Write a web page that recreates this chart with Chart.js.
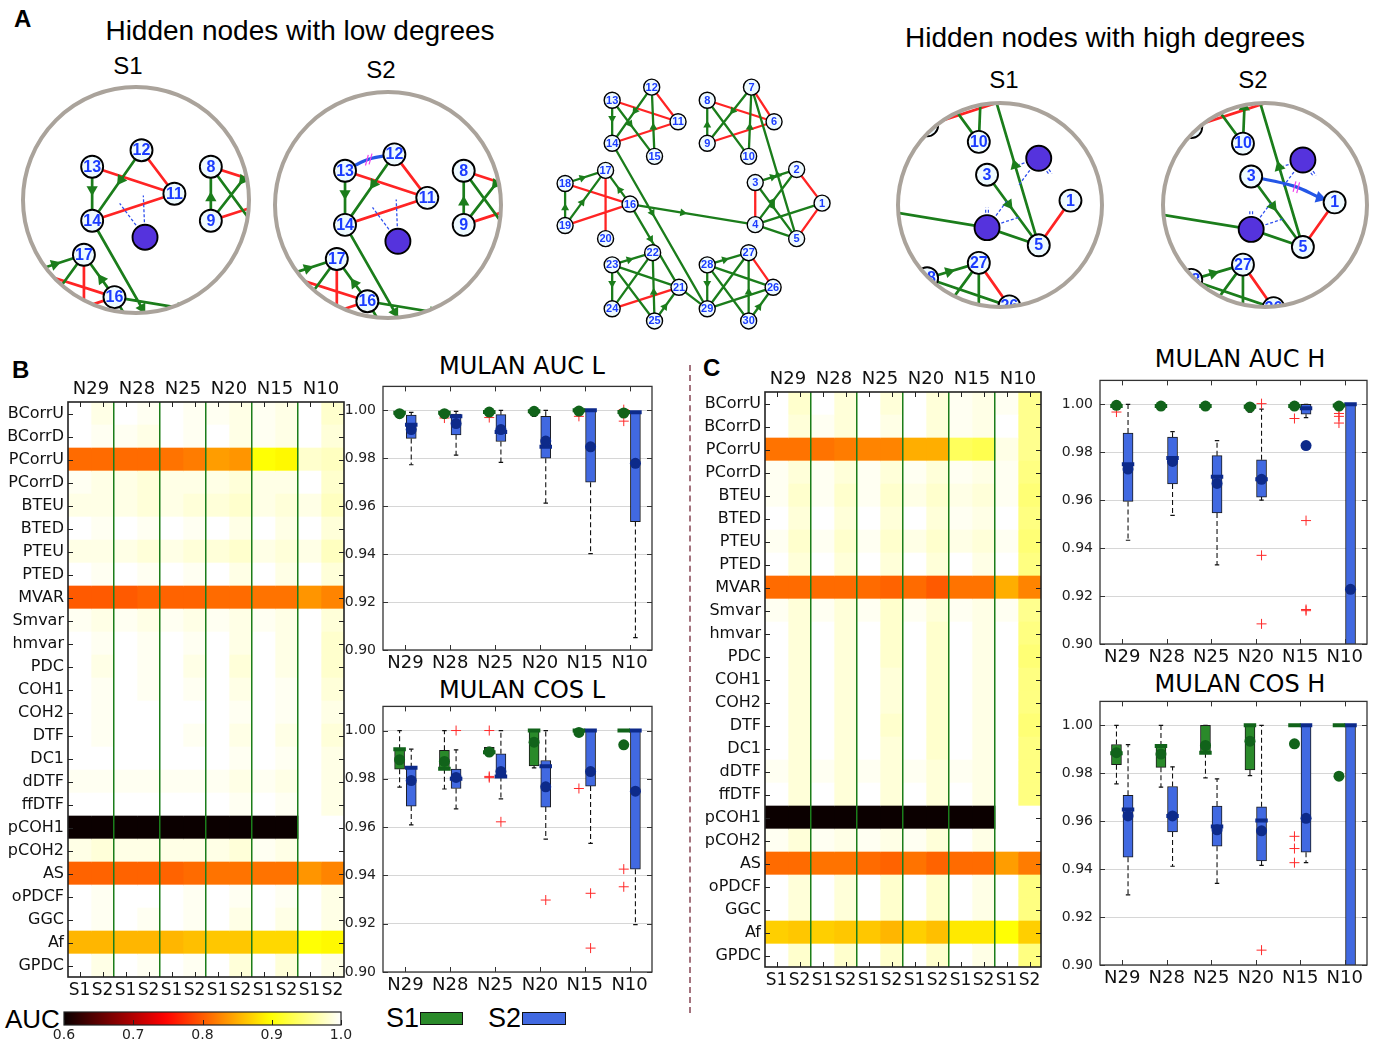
<!DOCTYPE html>
<html>
<head>
<meta charset="utf-8">
<title>Hidden nodes - MULAN</title>
<script src="https://cdn.jsdelivr.net/npm/chart.js@4.4.1/dist/chart.umd.min.js"></script>
<style>
  html, body { margin: 0; padding: 0; background: #fff; }
  body { position: relative; width: 1381px; height: 1046px; overflow: hidden; font-family: "DejaVu Sans", sans-serif; }
  canvas { position: absolute; }
  .t { position: absolute; white-space: nowrap; line-height: 1; color: #000; }
  .sans { font-family: "Liberation Sans", Arial, sans-serif; }
  .ctr { transform: translateX(-50%); }
  .sep { position: absolute; left: 689px; top: 365px; height: 648px; border-left: 2px dashed #a3727d; }
  .sw { position: absolute; height: 11px; border: 1px solid #111; }
</style>
</head>
<body>
<div class="t sans" style="left:14px;top:7px;font-size:24px;font-weight:bold">A</div>
<div class="t sans ctr" style="left:300px;top:17px;font-size:28px">Hidden nodes with low degrees</div>
<div class="t sans ctr" style="left:128px;top:54px;font-size:24px">S1</div>
<div class="t sans ctr" style="left:381px;top:58px;font-size:24px">S2</div>
<div class="t sans ctr" style="left:1105px;top:24px;font-size:28px">Hidden nodes with high degrees</div>
<div class="t sans ctr" style="left:1004px;top:68px;font-size:24px">S1</div>
<div class="t sans ctr" style="left:1253px;top:68px;font-size:24px">S2</div>

<div class="t sans" style="left:12px;top:358px;font-size:24px;font-weight:bold">B</div>
<div class="t sans" style="left:703px;top:356px;font-size:24px;font-weight:bold">C</div>
<div class="t ctr" style="left:522px;top:354px;font-size:24px">MULAN AUC L</div>
<div class="t ctr" style="left:522px;top:678px;font-size:24px">MULAN COS L</div>
<div class="t ctr" style="left:1240px;top:347px;font-size:24px">MULAN AUC H</div>
<div class="t ctr" style="left:1240px;top:672px;font-size:24px">MULAN COS H</div>
<div class="t sans" style="left:5px;top:1006px;font-size:26px">AUC</div>
<div class="t sans" style="left:386px;top:1005px;font-size:27px">S1</div>
<div class="sw" style="left:420px;top:1012px;width:41px;background:#2a8a2a"></div>
<div class="t sans" style="left:488px;top:1005px;font-size:27px">S2</div>
<div class="sw" style="left:522px;top:1012px;width:42px;background:#4169e1"></div>
<div class="sep"></div>

<script>
// ---------- data ----------
const groups = ['N29', 'N28', 'N25', 'N20', 'N15', 'N10'];
const subCols = ['S1', 'S2', 'S1', 'S2', 'S1', 'S2', 'S1', 'S2', 'S1', 'S2', 'S1', 'S2'];
const rowLabels = ['BCorrU', 'BCorrD', 'PCorrU', 'PCorrD', 'BTEU', 'BTED', 'PTEU', 'PTED', 'MVAR', 'Smvar',
  'hmvar', 'PDC', 'COH1', 'COH2', 'DTF', 'DC1', 'dDTF', 'ffDTF', 'pCOH1', 'pCOH2', 'AS', 'oPDCF', 'GGC', 'Af', 'GPDC'];
const yTicks = [0.90, 0.92, 0.94, 0.96, 0.98, 1.00];
const cbTicks = [0.6, 0.7, 0.8, 0.9, 1.0];

// AUC per method (rows) and N/S column (12 cols), panel B (low degrees)
const heatB = [
  [1.0, 0.99, 1.0, 0.995, 1.0, 0.995, 0.995, 0.99, 0.995, 0.99, 1.0, 0.98],
  [1.0, 0.995, 0.995, 0.99, 1.0, 0.995, 1.0, 0.99, 0.995, 0.99, 1.0, 0.985],
  [0.81, 0.81, 0.81, 0.81, 0.815, 0.82, 0.84, 0.835, 0.9, 0.895, 0.98, 0.975],
  [0.995, 0.99, 0.99, 0.985, 0.99, 0.99, 0.99, 0.985, 0.99, 0.99, 1.0, 0.98],
  [0.99, 0.99, 0.99, 0.985, 0.99, 0.985, 0.985, 0.98, 0.99, 0.985, 0.99, 0.975],
  [1.0, 0.995, 1.0, 0.995, 1.0, 0.995, 1.0, 0.99, 1.0, 0.99, 1.0, 0.985],
  [0.99, 0.99, 0.99, 0.985, 0.99, 0.985, 0.985, 0.98, 0.99, 0.985, 0.99, 0.975],
  [1.0, 0.995, 1.0, 0.995, 1.0, 0.995, 1.0, 0.99, 1.0, 0.99, 1.0, 0.985],
  [0.8, 0.8, 0.8, 0.805, 0.805, 0.805, 0.81, 0.81, 0.815, 0.815, 0.835, 0.825],
  [0.995, 0.99, 0.995, 0.99, 0.995, 0.99, 0.995, 0.99, 0.995, 0.99, 1.0, 0.985],
  [1.0, 0.995, 1.0, 0.995, 1.0, 0.995, 1.0, 0.99, 1.0, 0.99, 1.0, 0.98],
  [1.0, 0.99, 1.0, 0.995, 1.0, 0.99, 1.0, 0.985, 1.0, 0.99, 1.0, 0.98],
  [1.0, 0.995, 1.0, 0.995, 1.0, 0.995, 1.0, 0.99, 1.0, 0.995, 1.0, 0.985],
  [1.0, 0.995, 1.0, 1.0, 1.0, 1.0, 1.0, 0.995, 1.0, 0.995, 1.0, 0.99],
  [1.0, 0.995, 1.0, 1.0, 1.0, 0.995, 1.0, 0.99, 1.0, 0.99, 1.0, 0.985],
  [1.0, 1.0, 1.0, 1.0, 1.0, 1.0, 1.0, 0.995, 1.0, 0.995, 1.0, 0.99],
  [0.995, 0.995, 0.995, 0.995, 0.995, 0.995, 0.995, 0.99, 0.995, 0.99, 1.0, 0.99],
  [1.0, 1.0, 1.0, 1.0, 1.0, 1.0, 1.0, 0.995, 1.0, 0.995, 1.0, 0.99],
  [0.5, 0.5, 0.5, 0.5, 0.5, 0.5, 0.5, 0.5, 0.5, 0.5, null, null],
  [0.99, 0.985, 0.99, 0.99, 0.99, 0.99, 0.99, 0.985, 0.995, 0.99, 1.0, 1.0],
  [0.805, 0.805, 0.805, 0.805, 0.805, 0.81, 0.815, 0.815, 0.815, 0.815, 0.835, 0.825],
  [1.0, 0.995, 1.0, 1.0, 1.0, 0.995, 1.0, 0.995, 1.0, 0.995, 1.0, 0.99],
  [1.0, 0.995, 1.0, 0.995, 1.0, 0.995, 1.0, 0.99, 1.0, 0.99, 1.0, 0.99],
  [0.855, 0.855, 0.855, 0.855, 0.855, 0.86, 0.865, 0.865, 0.875, 0.875, 0.9, 0.895],
  [1.0, 0.99, 1.0, 0.995, 1.0, 0.995, 1.0, 0.985, 1.0, 0.985, 1.0, 0.99]
];

// panel C (high degrees)
const heatC = [
  [1.0, 0.98, 1.0, 0.985, 1.0, 0.985, 1.0, 0.985, 0.995, 0.99, 0.995, 0.955],
  [1.0, 0.985, 0.995, 0.985, 1.0, 0.99, 1.0, 0.985, 0.995, 0.99, 1.0, 0.955],
  [0.815, 0.815, 0.815, 0.82, 0.825, 0.825, 0.85, 0.85, 0.935, 0.93, 0.99, 0.955],
  [0.995, 0.985, 0.995, 0.985, 0.995, 0.985, 0.995, 0.985, 0.995, 0.99, 0.995, 0.95],
  [0.995, 0.98, 0.995, 0.98, 0.995, 0.98, 0.99, 0.98, 0.99, 0.985, 0.995, 0.945],
  [1.0, 0.985, 1.0, 0.985, 1.0, 0.985, 1.0, 0.985, 0.995, 0.99, 1.0, 0.95],
  [0.995, 0.98, 0.995, 0.98, 0.995, 0.98, 0.99, 0.98, 0.99, 0.985, 0.995, 0.945],
  [1.0, 0.985, 1.0, 0.985, 1.0, 0.985, 1.0, 0.985, 1.0, 0.99, 1.0, 0.95],
  [0.81, 0.81, 0.81, 0.81, 0.81, 0.805, 0.81, 0.8, 0.815, 0.815, 0.85, 0.825],
  [0.995, 0.985, 0.995, 0.985, 0.995, 0.98, 0.995, 0.985, 0.995, 0.99, 0.995, 0.955],
  [1.0, 0.985, 1.0, 0.985, 1.0, 0.98, 1.0, 0.98, 1.0, 0.99, 1.0, 0.95],
  [1.0, 0.985, 1.0, 0.985, 1.0, 0.98, 1.0, 0.98, 1.0, 0.99, 1.0, 0.945],
  [1.0, 0.985, 1.0, 0.985, 1.0, 0.985, 1.0, 0.98, 1.0, 0.99, 1.0, 0.95],
  [1.0, 0.985, 1.0, 0.985, 1.0, 0.985, 1.0, 0.98, 1.0, 0.99, 1.0, 0.95],
  [1.0, 0.985, 1.0, 0.985, 1.0, 0.98, 1.0, 0.98, 1.0, 0.99, 1.0, 0.945],
  [1.0, 0.985, 1.0, 0.985, 1.0, 0.985, 1.0, 0.98, 1.0, 0.99, 1.0, 0.95],
  [0.995, 0.985, 0.995, 0.985, 0.995, 0.985, 0.995, 0.985, 0.995, 0.99, 1.0, 0.95],
  [1.0, 0.985, 1.0, 0.985, 1.0, 0.985, 1.0, 0.985, 1.0, 0.99, 1.0, 0.95],
  [0.5, 0.5, 0.5, 0.5, 0.5, 0.5, 0.5, 0.5, 0.5, 0.5, null, null],
  [0.995, 0.985, 0.995, 0.99, 0.995, 0.99, 0.995, 0.985, 1.0, 0.99, 1.0, 1.0],
  [0.81, 0.81, 0.815, 0.815, 0.81, 0.805, 0.815, 0.805, 0.81, 0.81, 0.84, 0.82],
  [1.0, 0.985, 1.0, 0.985, 1.0, 0.98, 1.0, 0.98, 1.0, 0.99, 1.0, 0.95],
  [1.0, 0.985, 1.0, 0.985, 1.0, 0.98, 1.0, 0.98, 1.0, 0.99, 1.0, 0.95],
  [0.87, 0.865, 0.87, 0.865, 0.865, 0.855, 0.87, 0.86, 0.885, 0.885, 0.9, 0.87],
  [1.0, 0.98, 1.0, 0.98, 1.0, 0.98, 1.0, 0.98, 1.0, 0.99, 1.0, 0.95]
];

// box plots: [whiskerLow, q1, median, q3, whiskerHigh] per N, means, outliers as [groupIndex, value]
const aucL_S1_box = [[0.9975, 0.998, 0.999, 0.9995, 1.0], [0.9975, 0.998, 0.999, 0.9995, 1.0], [0.998, 0.9985, 0.9993, 0.9998, 1.0],
  [0.9975, 0.9985, 0.9996, 1.0, 1.0], [0.999, 0.9995, 1.0, 1.0, 1.0], [0.998, 0.9985, 0.9993, 1.0, 1.0]];
const aucL_S1_mean = [0.9986, 0.9986, 0.9993, 0.9996, 0.9997, 0.9989];
const aucL_S1_out = [[1, 0.9968], [2, 0.997], [4, 0.9975], [5, 1.0003], [5, 0.9955]];
const aucL_S2_box = [[0.9773, 0.9883, 0.994, 0.998, 0.9992], [0.9813, 0.9898, 0.9975, 0.9985, 0.9996], [0.9783, 0.987, 0.991, 0.9982, 1.0],
  [0.9613, 0.98, 0.9848, 0.9975, 1.0], [0.9402, 0.97, 1.0, 1.0, 1.0], [0.9052, 0.9536, 0.9992, 0.9992, 0.9992]];
const aucL_S2_mean = [0.992, 0.9945, 0.992, 0.9872, 0.9848, 0.9779];
const aucL_S2_out = [];

const cosL_S1_box = [[0.9766, 0.984, 0.9923, 0.9923, 1.0], [0.9758, 0.9842, 0.9842, 0.9918, 1.0], [0.991, 0.991, 0.991, 0.993, 0.993],
  [0.9845, 0.9854, 1.0, 1.0, 1.0], [1.0, 1.0, 1.0, 1.0, 1.0], [1.0, 1.0, 1.0, 1.0, 1.0]];
const cosL_S1_mean = [0.9879, 0.9872, 0.9911, 0.9952, 0.9992, 0.9941];
const cosL_S1_out = [[2, 1.0], [2, 0.981], [2, 0.9805], [4, 0.976], [5, 0.9426], [5, 0.9353]];
const cosL_S2_box = [[0.9609, 0.9687, 0.9846, 0.9846, 0.9923], [0.9676, 0.976, 0.98, 0.984, 0.992], [0.9717, 0.981, 0.981, 0.9904, 1.0],
  [0.955, 0.9683, 0.9852, 0.9876, 1.0], [0.9533, 0.977, 1.0, 1.0, 1.0], [0.9196, 0.9426, 1.0, 1.0, 1.0]];
const cosL_S2_mean = [0.9793, 0.9806, 0.983, 0.9767, 0.983, 0.9749];
const cosL_S2_out = [[1, 1.0], [2, 0.9622], [3, 0.9298], [4, 0.9326], [4, 0.9099]];

const aucH_S1_box = [[0.998, 0.9985, 0.9993, 0.9998, 1.0], [0.9985, 0.999, 0.9993, 0.9997, 1.0], [0.9985, 0.999, 0.9993, 0.9997, 1.0],
  [0.9968, 0.9985, 0.999, 1.0, 1.0], [0.9975, 0.9985, 0.9993, 1.0, 1.0], [0.998, 0.999, 0.9995, 1.0, 1.0]];
const aucH_S1_mean = [0.9996, 0.9993, 0.9993, 0.9989, 0.9993, 0.9993];
const aucH_S1_out = [[0, 0.9968], [4, 0.9941], [5, 0.9962], [5, 0.995], [5, 0.9922]];
const aucH_S2_box = [[0.9433, 0.9595, 0.975, 0.988, 1.0], [0.9537, 0.9668, 0.9776, 0.9863, 0.9886], [0.933, 0.9547, 0.9698, 0.9786, 0.9849],
  [0.96, 0.9613, 0.9687, 0.9769, 0.998], [0.9945, 0.9959, 0.9984, 1.0, 1.0], [0.85, 0.86, 1.0, 1.0, 1.0]];
const aucH_S2_mean = [0.973, 0.9762, 0.967, 0.9687, 0.9828, 0.9228];
const aucH_S2_out = [[3, 1.0003], [3, 0.937], [3, 0.9084], [4, 0.9515], [4, 0.9144], [4, 0.9139]];

const cosH_S1_box = [[0.9756, 0.9836, 0.9884, 0.992, 1.0], [0.9742, 0.9825, 0.9914, 0.9914, 1.0], [0.9781, 0.9886, 0.9886, 1.0, 1.0],
  [0.979, 0.9814, 1.0, 1.0, 1.0], [1.0, 1.0, 1.0, 1.0, 1.0], [1.0, 1.0, 1.0, 1.0, 1.0]];
const cosH_S1_mean = [0.9886, 0.988, 0.9916, 0.9934, 0.9923, 0.9788];
const cosH_S1_out = [[4, 0.9537], [4, 0.9486], [4, 0.9427]];
const cosH_S2_box = [[0.9293, 0.945, 0.9649, 0.9708, 0.992], [0.9412, 0.9555, 0.9622, 0.9745, 0.9827], [0.9341, 0.9496, 0.9578, 0.9663, 0.9777],
  [0.9416, 0.9434, 0.9603, 0.966, 1.0], [0.9427, 0.9471, 1.0, 1.0, 1.0], [0.85, 0.86, 1.0, 1.0, 1.0]];
const cosH_S2_mean = [0.9622, 0.9622, 0.9564, 0.956, 0.9612, null];
const cosH_S2_out = [[3, 0.9062]];

// network: node layout (1..30) and edges [from, to, type] g = green arrow, n = green plain, r = red
const nodeX = [830, 803, 759, 759, 803, 779, 755, 708, 708, 752, 677, 649, 607, 607, 652, 626, 600, 557, 557, 600,
  678, 650, 607, 607, 652, 778, 752, 708, 708, 752];
const nodeY = [203, 167, 181, 226, 241, 116, 79, 93, 139, 153, 116, 79, 93, 139, 153, 204, 168, 182, 227, 241,
  293, 256, 269, 316, 329, 293, 256, 269, 316, 329];
const edges = [
  [2, 1, 'r'], [5, 1, 'r'], [3, 4, 'r'], [3, 2, 'g'], [4, 2, 'g'], [3, 5, 'g'], [4, 1, 'n'], [4, 5, 'n'], [5, 7, 'g'], [16, 4, 'g'],
  [8, 6, 'r'], [7, 6, 'r'], [9, 6, 'r'], [9, 8, 'g'], [7, 9, 'g'], [10, 7, 'g'], [8, 10, 'n'],
  [13, 11, 'r'], [12, 11, 'r'], [14, 11, 'r'], [13, 14, 'g'], [12, 14, 'g'], [15, 12, 'g'], [13, 15, 'g'],
  [18, 16, 'r'], [19, 16, 'r'], [17, 20, 'r'], [18, 17, 'g'], [19, 18, 'g'], [19, 17, 'g'], [16, 17, 'g'], [14, 29, 'g'], [16, 21, 'g'],
  [24, 21, 'r'], [23, 22, 'g'], [23, 24, 'g'], [23, 21, 'n'], [22, 24, 'n'], [25, 22, 'g'], [25, 21, 'g'], [21, 29, 'n'], [23, 25, 'n'],
  [27, 26, 'r'], [28, 27, 'g'], [28, 29, 'g'], [28, 26, 'n'], [29, 27, 'n'], [29, 26, 'n'], [30, 27, 'g'], [28, 30, 'n'], [30, 26, 'g']
];

// ---------- setup ----------
Chart.defaults.animation = false;
Chart.defaults.events = [];
Chart.defaults.font.family = '"DejaVu Sans", sans-serif';
Chart.defaults.color = '#111';
Chart.defaults.plugins.legend.display = false;
Chart.defaults.plugins.tooltip.enabled = false;

const GREEN = '#1b7d1b', RED = '#ff2424', STUB = '#3050ee';
const NOGRID = { display: false, drawTicks: false };

function mkCanvas(left, top, w, h) {
  const c = document.createElement('canvas');
  c.width = w; c.height = h;
  c.style.left = left + 'px'; c.style.top = top + 'px';
  c.style.width = w + 'px'; c.style.height = h + 'px';
  document.body.appendChild(c);
  return c;
}

// matplotlib "hot" colormap over 0.6 .. 1.0
function hot(v) {
  if (v == null) return '#ffffff';
  const t = Math.min(1, Math.max(0, (v - 0.6) / 0.4));
  const r = t < 0.365079 ? 0.0416 + 0.9584 * t / 0.365079 : 1;
  const g = t < 0.365079 ? 0 : (t < 0.746032 ? (t - 0.365079) / 0.380953 : 1);
  const b = t < 0.746032 ? 0 : (t - 0.746032) / 0.253968;
  return 'rgb(' + Math.round(r * 255) + ',' + Math.round(g * 255) + ',' + Math.round(b * 255) + ')';
}

// frame around the plot area + inward ticks (matplotlib look)
function mkFrame(cfg) {
  return {
    id: 'frame',
    afterDraw(chart) {
      const ctx = chart.ctx, a = chart.chartArea, len = 5;
      ctx.save();
      ctx.strokeStyle = cfg.color;
      ctx.lineWidth = 1;
      ctx.beginPath();
      (cfg.x || []).forEach(id => {
        const s = chart.scales[id];
        s.ticks.forEach((t, i) => {
          const p = Math.round(s.getPixelForTick(i)) + 0.5;
          if (!cfg.bottomOnly) { ctx.moveTo(p, a.top); ctx.lineTo(p, a.top + len); }
          ctx.moveTo(p, a.bottom); ctx.lineTo(p, a.bottom - len);
        });
      });
      (cfg.y || []).forEach(id => {
        const s = chart.scales[id];
        s.ticks.forEach((t, i) => {
          const p = Math.round(s.getPixelForTick(i)) + 0.5;
          ctx.moveTo(a.left, p); ctx.lineTo(a.left + len, p);
          ctx.moveTo(a.right, p); ctx.lineTo(a.right - len, p);
        });
      });
      ctx.stroke();
      ctx.lineWidth = cfg.width;
      ctx.strokeRect(a.left, a.top, a.right - a.left, a.bottom - a.top);
      ctx.restore();
    }
  };
}

// ---------- heatmaps ----------
function drawHeatmap(areaX, areaY, yW, rows) {
  const w = 276, h = 575, padR = 12, topH = 30, botH = 30;
  const c = mkCanvas(areaX - yW, areaY - topH, yW + w + padR, topH + h + botH);
  const datasets = subCols.map((s, j) => ({
    data: rows.map(() => 1),
    backgroundColor: rows.map(r => hot(r[j])),
    borderWidth: 0,
    categoryPercentage: 1,
    barPercentage: 1
  }));
  new Chart(c, {
    type: 'bar',
    data: { labels: rowLabels, datasets },
    options: {
      indexAxis: 'y',
      responsive: false,
      layout: { padding: { right: padR } },
      scales: {
        x: {
          type: 'linear', stacked: true, min: 0, max: 12, position: 'bottom',
          afterBuildTicks: s => { s.ticks = subCols.map((n, i) => ({ value: i + 0.5 })); },
          afterFit: s => { s.height = botH; },
          ticks: { callback: (v, i) => subCols[i], font: { size: 17 }, padding: 3, autoSkip: false, maxRotation: 0, minRotation: 0 },
          grid: NOGRID, border: { display: false }
        },
        xTop: {
          type: 'linear', min: 0, max: 12, position: 'top',
          afterBuildTicks: s => { s.ticks = groups.map((g, i) => ({ value: 2 * i + 1 })); },
          afterFit: s => { s.height = topH; },
          ticks: { callback: (v, i) => groups[i], font: { size: 18 }, padding: 2, autoSkip: false, maxRotation: 0, minRotation: 0 },
          grid: NOGRID, border: { display: false }
        },
        xSep: {
          type: 'linear', min: 0, max: 12, position: 'top',
          afterBuildTicks: s => { s.ticks = [2, 4, 6, 8, 10].map(v => ({ value: v })); },
          afterFit: s => { s.height = 0; },
          ticks: { display: false },
          grid: { color: GREEN, lineWidth: 1.5, drawTicks: false, z: 1 }, border: { display: false }
        },
        y: {
          stacked: true,
          afterFit: s => { s.width = yW; },
          ticks: { font: { size: 16 }, padding: 4, autoSkip: false, color: '#111' },
          grid: NOGRID, border: { display: false }
        }
      }
    },
    plugins: [mkFrame({ x: ['x'], y: ['y'], color: '#222', width: 1.6 })]
  });
}

drawHeatmap(68, 402, 68, heatB);
drawHeatmap(765, 392, 75, heatC);

// ---------- colour bar ----------
(function () {
  const area = { x: 64, y: 1012, w: 277, h: 13 };
  const pl = 14, pr = 16, pt = 2, xb = 21;
  const c = mkCanvas(area.x - pl, area.y - pt, pl + area.w + pr, pt + area.h + xb);
  new Chart(c, {
    type: 'bar',
    data: {
      labels: ['AUC'],
      datasets: [{
        data: [[cbTicks[0], cbTicks[cbTicks.length - 1]]],
        backgroundColor: ctx => {
          const a = ctx.chart.chartArea;
          if (!a) return '#000';
          const g = ctx.chart.ctx.createLinearGradient(a.left, 0, a.right, 0);
          for (let i = 0; i <= 40; i++) g.addColorStop(i / 40, hot(0.6 + 0.4 * i / 40));
          return g;
        },
        borderWidth: 0, categoryPercentage: 1, barPercentage: 1
      }]
    },
    options: {
      indexAxis: 'y', responsive: false,
      layout: { padding: { left: pl, right: pr, top: pt } },
      scales: {
        x: {
          type: 'linear', min: 0.6, max: 1.0,
          afterBuildTicks: s => { s.ticks = cbTicks.map(v => ({ value: v })); },
          afterFit: s => { s.height = xb; },
          ticks: { callback: v => v.toFixed(1), font: { size: 14 }, padding: 2, color: '#222' },
          grid: NOGRID, border: { display: false }
        },
        y: { display: false }
      }
    },
    plugins: [mkFrame({ x: ['x'], color: '#222', width: 1.2, bottomOnly: true })]
  });
})();

// ---------- box plots ----------
function gap() { return { x: NaN, y: null }; }
function segs(list) {
  const d = [];
  list.forEach(([x1, y1, x2, y2]) => { d.push({ x: x1, y: y1 }, { x: x2, y: y2 }, gap()); });
  return d;
}

function seriesSets(box, mean, out, off, fill, dark) {
  const xs = box.map((b, i) => i + 1 + off);
  return [
    { type: 'bar', data: box.map((b, i) => ({ x: xs[i], y: [b[1], b[3]] })), backgroundColor: fill,
      borderColor: '#1a1a1a', borderWidth: 1, borderSkipped: false, grouped: false, barThickness: 10, order: 3 },
    { type: 'scatter', showLine: true, order: 4, pointRadius: 0, borderColor: '#111', borderWidth: 1.1, borderDash: [5, 3],
      data: segs(box.flatMap((b, i) => [[xs[i], b[3], xs[i], b[4]], [xs[i], b[1], xs[i], b[0]]])) },
    { type: 'scatter', showLine: true, order: 4, pointRadius: 0, borderColor: '#111', borderWidth: 1.2,
      data: segs(box.flatMap((b, i) => [[xs[i] - 0.05, b[4], xs[i] + 0.05, b[4]], [xs[i] - 0.05, b[0], xs[i] + 0.05, b[0]]])) },
    { type: 'scatter', showLine: true, order: 1, pointRadius: 0, borderColor: dark, borderWidth: 4,
      data: segs(box.map((b, i) => [xs[i] - 0.14, b[2], xs[i] + 0.14, b[2]])) },
    { type: 'scatter', order: 0, pointRadius: 5.5, pointBackgroundColor: dark, pointBorderWidth: 0,
      data: mean.map((m, i) => (m == null ? null : { x: xs[i], y: m })).filter(Boolean) },
    { type: 'scatter', order: 0, pointStyle: 'cross', pointRadius: 5, pointBorderColor: '#ff2a2a', pointBorderWidth: 1,
      data: out.map(([g, v]) => ({ x: g + 1 + off, y: v })) }
  ];
}

function drawBox(ax, ay, aw, ah, yW, s1, s2) {
  const padT = 12, padR = 8, xH = 32;
  const c = mkCanvas(ax - yW, ay - padT, yW + aw + padR, padT + ah + xH);
  const sets = seriesSets(s1[0], s1[1], s1[2], -0.13, '#2a8a2a', '#11631a')
    .concat(seriesSets(s2[0], s2[1], s2[2], 0.13, '#4169e1', '#0d2a8a'));
  new Chart(c, {
    type: 'bar',
    data: { datasets: sets },
    options: {
      responsive: false,
      layout: { padding: { top: padT, right: padR } },
      scales: {
        x: {
          type: 'linear', offset: false, min: 0.5, max: 6.5,
          afterBuildTicks: s => { s.ticks = groups.map((g, i) => ({ value: i + 1 })); },
          afterFit: s => { s.height = xH; },
          ticks: { callback: (v, i) => groups[i], font: { size: 18 }, padding: 3, autoSkip: false, maxRotation: 0, minRotation: 0 },
          grid: NOGRID, border: { display: false }
        },
        y: {
          type: 'linear', min: 0.9, max: 1.01,
          afterBuildTicks: s => { s.ticks = yTicks.map(v => ({ value: v })); },
          afterFit: s => { s.width = yW; },
          ticks: { callback: v => v.toFixed(2), font: { size: 14 }, padding: 7, color: '#222' },
          grid: { color: '#d6d6d6', lineWidth: 1, drawTicks: false }, border: { display: false }
        }
      }
    },
    plugins: [mkFrame({ x: ['x'], y: ['y'], color: '#333', width: 1.3 })]
  });
}

drawBox(383, 383, 269, 267, 43, [aucL_S1_box, aucL_S1_mean, aucL_S1_out], [aucL_S2_box, aucL_S2_mean, aucL_S2_out]);
drawBox(383, 703, 269, 269, 43, [cosL_S1_box, cosL_S1_mean, cosL_S1_out], [cosL_S2_box, cosL_S2_mean, cosL_S2_out]);
drawBox(1100, 377, 267, 267, 50, [aucH_S1_box, aucH_S1_mean, aucH_S1_out], [aucH_S2_box, aucH_S2_mean, aucH_S2_out]);
drawBox(1100, 698, 267, 267, 50, [cosH_S1_box, cosH_S1_mean, cosH_S1_out], [cosH_S2_box, cosH_S2_mean, cosH_S2_out]);

// ---------- networks ----------
function P(i) { return { x: nodeX[i - 1], y: nodeY[i - 1] }; }

function buildNet(v) {
  const green = [], red = [], single = [], dbl = [], arrows = [], rot = [];
  edges.forEach(([a, b, t]) => {
    const pa = P(a), pb = P(b);
    const ha = v.hidden.includes(a), hb = v.hidden.includes(b);
    if ((ha || hb) && !v.keep.includes(a + '-' + b)) {
      [[pa, pb, ha], [pb, pa, hb]].forEach(([p, q, h]) => {
        if (!h) return;
        const e = { x: p.x + (q.x - p.x) * v.stub, y: p.y + (q.y - p.y) * v.stub };
        if (t === 'r') {
          const L = Math.hypot(q.x - p.x, q.y - p.y), off = 1.6 / v.k;
          const nx = -(q.y - p.y) / L * off, ny = (q.x - p.x) / L * off;
          dbl.push({ x: p.x + nx, y: p.y + ny }, { x: e.x + nx, y: e.y + ny }, gap(),
            { x: p.x - nx, y: p.y - ny }, { x: e.x - nx, y: e.y - ny }, gap());
        } else {
          single.push({ x: p.x, y: p.y }, e, gap());
        }
      });
      return;
    }
    (t === 'r' ? red : green).push({ x: pa.x, y: pa.y }, { x: pb.x, y: pb.y }, gap());
    if (t === 'g') {
      arrows.push({ x: pa.x + (pb.x - pa.x) * 0.42, y: pa.y + (pb.y - pa.y) * 0.42 });
      rot.push(Math.atan2(pb.x - pa.x, -(pb.y - pa.y)) * 180 / Math.PI);
    }
  });
  const ids = nodeX.map((x, i) => i + 1);
  const sets = [
    { data: ids.map(i => P(i)), order: 0, clip: false,
      pointRadius: ids.map(i => (v.hidden.includes(i) ? v.hidR : v.nodeR)),
      pointBackgroundColor: ids.map(i => (v.hidden.includes(i) ? '#5533dd' : '#eefaff')),
      pointBorderColor: '#000', pointBorderWidth: v.bw },
    { data: arrows, order: 1, clip: false, pointStyle: 'triangle', pointRotation: rot, pointRadius: v.arrR,
      pointBackgroundColor: GREEN, pointBorderWidth: 0 },
    { data: green, showLine: true, order: 3, clip: false, pointRadius: 0, borderColor: GREEN, borderWidth: v.lw },
    { data: red, showLine: true, order: 3, clip: false, pointRadius: 0, borderColor: RED, borderWidth: v.lw },
    { data: single, showLine: true, order: 2, clip: false, pointRadius: 0, borderColor: STUB, borderWidth: 1.3, borderDash: [3, 2] },
    { data: dbl, showLine: true, order: 2, clip: false, pointRadius: 0, borderColor: STUB, borderWidth: 1.2, borderDash: [3, 2] }
  ];
  if (v.blue) {
    const [a, b, arrow] = v.blue;
    const pa = P(a), pb = P(b);
    const dx = pb.x - pa.x, dy = pb.y - pa.y, L = Math.hypot(dx, dy), ux = dx / L, uy = dy / L;
    const bend = 4 / v.k;
    const mid = { x: pa.x + dx * 0.5 + uy * bend, y: pa.y + dy * 0.5 - ux * bend };
    const back = arrow ? (v.nodeR + 7) / v.k : 0;
    const end = { x: pb.x - ux * back, y: pb.y - uy * back };
    sets.push({ data: [{ x: pa.x, y: pa.y }, mid, end], showLine: true, tension: 0.4, order: 2, clip: false,
      pointRadius: 0, borderColor: '#2456e6', borderWidth: 3.2 });
    if (arrow) {
      sets.push({ data: [end], order: 1, clip: false, pointStyle: 'triangle', pointRadius: 7,
        pointRotation: Math.atan2(dx, -dy) * 180 / Math.PI, pointBackgroundColor: '#2456e6', pointBorderWidth: 0 });
    }
    const sp = 2.2 / v.k, m = arrow ? 0.53 : 0.5;
    const c0 = { x: pa.x + dx * m + uy * bend * 0.9, y: pa.y + dy * m - ux * bend * 0.9 };
    sets.push({ data: [{ x: c0.x - ux * sp, y: c0.y - uy * sp }, { x: c0.x + ux * sp, y: c0.y + uy * sp }],
      order: 0, clip: false, pointStyle: 'line', pointRadius: 5.5, pointRotation: 105,
      pointBorderColor: '#ee44ee', pointBorderWidth: 1.2 });
  }
  return { sets, labels: ids.map(i => (v.hidden.includes(i) ? '' : String(i))) };
}

function mkNetPlugin(cfg, labels) {
  return {
    id: 'netDeco',
    beforeDatasetsDraw(chart) {
      if (!cfg.circle) return;
      const ctx = chart.ctx;
      ctx.save();
      ctx.beginPath();
      ctx.arc(cfg.cx, cfg.cy, cfg.r, 0, Math.PI * 2);
      ctx.clip();
    },
    afterDatasetsDraw(chart) {
      const ctx = chart.ctx;
      const meta = chart.getDatasetMeta(0);
      ctx.save();
      ctx.font = 'bold ' + cfg.font + 'px "Liberation Sans", Arial, sans-serif';
      ctx.fillStyle = '#1a3cff';
      ctx.textAlign = 'center';
      ctx.textBaseline = 'middle';
      meta.data.forEach((pt, i) => { if (labels[i]) ctx.fillText(labels[i], pt.x, pt.y + 0.5); });
      ctx.restore();
      if (cfg.circle) {
        ctx.restore();
        ctx.save();
        ctx.strokeStyle = '#aaa39b';
        ctx.lineWidth = 4;
        ctx.beginPath();
        ctx.arc(cfg.cx, cfg.cy, cfg.r, 0, Math.PI * 2);
        ctx.stroke();
        ctx.restore();
      }
    }
  };
}

function drawNet(left, top, W, H, xmin, ymin, v) {
  const c = mkCanvas(left, top, W, H);
  const net = buildNet(v);
  new Chart(c, {
    type: 'scatter',
    data: { datasets: net.sets },
    options: {
      responsive: false,
      layout: { padding: 0 },
      scales: {
        x: { type: 'linear', display: false, min: xmin, max: xmin + W / v.k },
        y: { type: 'linear', display: false, min: ymin, max: ymin + H / v.k, reverse: true }
      }
    },
    plugins: [mkNetPlugin({ circle: !!v.r, cx: v.r + 4, cy: v.r + 4, r: v.r, font: v.font }, net.labels)]
  });
}

// full network in the middle
drawNet(535, 60, 320, 290, 535, 60,
  { k: 1, hidden: [], keep: [], stub: 0, nodeR: 8, hidR: 8, bw: 1.4, lw: 2.3, arrR: 4.6, font: 11, blue: null });

// magnified views around the hidden nodes
const views = [
  { cx: 136, cy: 200, r: 113, n0: 13, p0: [86, 162], k: 1.34, hidden: [15], keep: [], stub: 0.48, blue: null },
  { cx: 388, cy: 205, r: 113, n0: 13, p0: [339, 166], k: 1.34, hidden: [15], keep: [], stub: 0.48, blue: [13, 12, false] },
  { cx: 1000, cy: 205, r: 102, n0: 3, p0: [985, 170], k: 1.36, hidden: [4, 2], keep: ['16-4', '4-5'], stub: 0.38, blue: null },
  { cx: 1265, cy: 205, r: 102, n0: 3, p0: [1249, 172], k: 1.36, hidden: [4, 2], keep: ['16-4', '4-5'], stub: 0.38, blue: [3, 1, true] }
];
views.forEach(vw => {
  const left = vw.cx - vw.r - 4, top = vw.cy - vw.r - 4, S = 2 * vw.r + 8;
  const xmin = nodeX[vw.n0 - 1] + (left - vw.p0[0]) / vw.k;
  const ymin = nodeY[vw.n0 - 1] + (top - vw.p0[1]) / vw.k;
  drawNet(left, top, S, S, xmin, ymin, Object.assign({
    nodeR: 11, hidR: 12.5, bw: 1.9, lw: 2.7, arrR: 6.5, font: 16
  }, vw));
});
</script>
</body>
</html>
